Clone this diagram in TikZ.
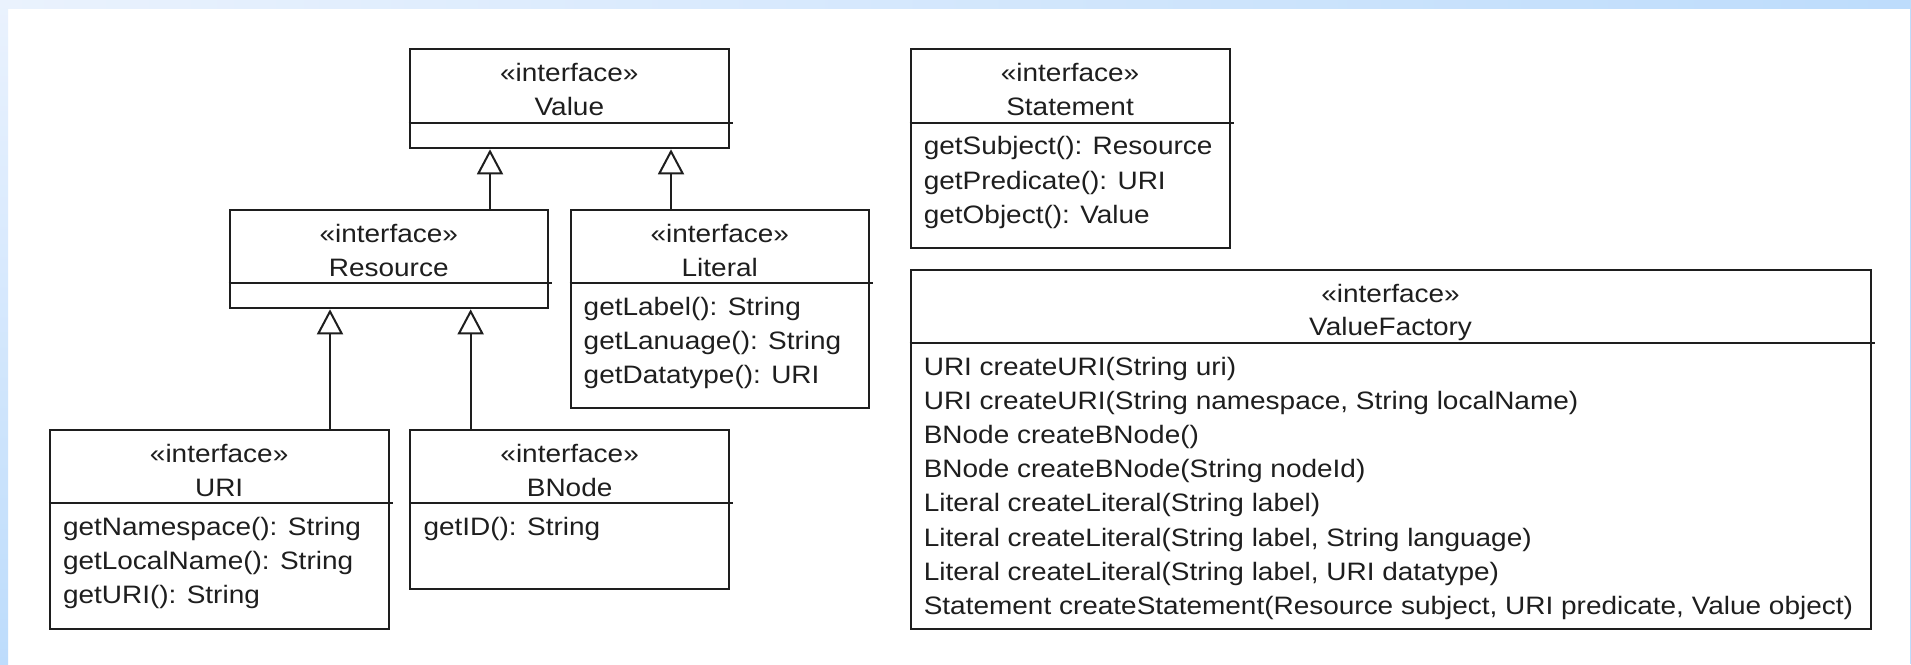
\documentclass[tikz,border=0pt]{standalone}
\usepackage{fontspec}
\setmainfont{Liberation Sans}[FakeStretch=1.11]
\usetikzlibrary{arrows.meta}
\definecolor{bandlight}{HTML}{EAF2FD}
\definecolor{bandblue}{HTML}{BDDCFC}
\definecolor{ink}{HTML}{1E1E1E}
\tikzset{
  umlbox/.style={draw=ink, line width=2pt, fill=white, rectangle, inner sep=0pt, anchor=north west},
  divider/.style={draw=ink, line width=2pt},
  hdr/.style={anchor=base, inner sep=0pt, text=ink},
  meth/.style={anchor=base west, inner sep=0pt, text=ink},
  inh/.style={draw=ink, line width=2pt, -{Triangle[open, length=25pt, width=26pt, line width=2pt]}},
}
\begin{document}
\begin{tikzpicture}[x=1pt, y=-1pt, font=\fontsize{25.2}{34.2}\selectfont]
\useasboundingbox (0,0) rectangle (1911,664);
% background frame
\fill[white] (0,0) rectangle (1911,664);
\shade[left color=bandlight, right color=bandblue] (0,0) rectangle (1911,8);
\shade[top color=bandlight, bottom color=bandblue] (0,0) rectangle (8,664);
\fill[bandblue] (1910,8) rectangle (1911,664);

% ---------- Value ----------
\node[umlbox, minimum width=319.3pt, minimum height=99pt] (value) at (408.7,48.3) {};
\node[hdr] (valueS) at ([yshift=-33pt]value.north) {«interface»};
\node[hdr] (valueN) at ([yshift=-67pt]value.north) {Value};
\draw[divider] ([yshift=-75pt]value.north west) -- ([xshift=3pt,yshift=-75pt]value.north east);

% ---------- Resource ----------
\node[umlbox, minimum width=318.5pt, minimum height=98pt] (res) at (228.5,209.3) {};
\node[hdr] (resS) at ([yshift=-33pt]res.north) {«interface»};
\node[hdr] (resN) at ([yshift=-67pt]res.north) {Resource};
\draw[divider] ([yshift=-74pt]res.north west) -- ([xshift=3pt,yshift=-74pt]res.north east);

% ---------- Literal ----------
\node[umlbox, minimum width=298.5pt, minimum height=198pt] (lit) at (569.5,209.3) {};
\node[hdr] (litS) at ([yshift=-33pt]lit.north) {«interface»};
\node[hdr] (litN) at ([yshift=-67pt]lit.north) {Literal};
\draw[divider] ([yshift=-74pt]lit.north west) -- ([xshift=3pt,yshift=-74pt]lit.north east);
\node[meth] (lit1) at ([xshift=14pt,yshift=-105.7pt]lit.north west) {getLabel(): String};
\node[meth] (lit2) at ([xshift=14pt,yshift=-139.9pt]lit.north west) {getLanuage(): String};
\node[meth] (lit3) at ([xshift=14pt,yshift=-174.1pt]lit.north west) {getDatatype(): URI};

% ---------- URI ----------
\node[umlbox, minimum width=338.7pt, minimum height=198.7pt] (uri) at (48.8,429) {};
\node[hdr] (uriS) at ([yshift=-33pt]uri.north) {«interface»};
\node[hdr] (uriN) at ([yshift=-67pt]uri.north) {URI};
\draw[divider] ([yshift=-74.3pt]uri.north west) -- ([xshift=3pt,yshift=-74.3pt]uri.north east);
\node[meth] (uri1) at ([xshift=14pt,yshift=-106pt]uri.north west) {getNamespace(): String};
\node[meth] (uri2) at ([xshift=14pt,yshift=-140.2pt]uri.north west) {getLocalName(): String};
\node[meth] (uri3) at ([xshift=14pt,yshift=-174.4pt]uri.north west) {getURI(): String};

% ---------- BNode ----------
\node[umlbox, minimum width=318.7pt, minimum height=158.7pt] (bnode) at (409.3,429) {};
\node[hdr] (bnodeS) at ([yshift=-33pt]bnode.north) {«interface»};
\node[hdr] (bnodeN) at ([yshift=-67pt]bnode.north) {BNode};
\draw[divider] ([yshift=-74.3pt]bnode.north west) -- ([xshift=3pt,yshift=-74.3pt]bnode.north east);
\node[meth] (bnode1) at ([xshift=14pt,yshift=-106pt]bnode.north west) {getID(): String};

% ---------- Statement ----------
\node[umlbox, minimum width=318.9pt, minimum height=199pt] (stmt) at (909.6,48.3) {};
\node[hdr] (stmtS) at ([yshift=-33pt]stmt.north) {«interface»};
\node[hdr] (stmtN) at ([yshift=-67pt]stmt.north) {Statement};
\draw[divider] ([yshift=-75pt]stmt.north west) -- ([xshift=3pt,yshift=-75pt]stmt.north east);
\node[meth] (stmt1) at ([xshift=14pt,yshift=-106.5pt]stmt.north west) {getSubject(): Resource};
\node[meth] (stmt2) at ([xshift=14pt,yshift=-140.7pt]stmt.north west) {getPredicate(): URI};
\node[meth] (stmt3) at ([xshift=14pt,yshift=-174.9pt]stmt.north west) {getObject(): Value};

% ---------- ValueFactory ----------
\node[umlbox, minimum width=959.9pt, minimum height=358.4pt] (vf) at (909.6,269.3) {};
\node[hdr] (vfS) at ([yshift=-33pt]vf.north) {«interface»};
\node[hdr] (vfN) at ([yshift=-66pt]vf.north) {ValueFactory};
\draw[divider] ([yshift=-74pt]vf.north west) -- ([xshift=3pt,yshift=-74pt]vf.north east);
\node[meth] (vf1) at ([xshift=14pt,yshift=-105.7pt]vf.north west) {URI createURI(String uri)};
\node[meth] (vf2) at ([xshift=14pt,yshift=-139.9pt]vf.north west) {URI createURI(String namespace, String localName)};
\node[meth] (vf3) at ([xshift=14pt,yshift=-174.1pt]vf.north west) {BNode createBNode()};
\node[meth] (vf4) at ([xshift=14pt,yshift=-208.3pt]vf.north west) {BNode createBNode(String nodeId)};
\node[meth] (vf5) at ([xshift=14pt,yshift=-242.5pt]vf.north west) {Literal createLiteral(String label)};
\node[meth] (vf6) at ([xshift=14pt,yshift=-276.7pt]vf.north west) {Literal createLiteral(String label, String language)};
\node[meth] (vf7) at ([xshift=14pt,yshift=-310.9pt]vf.north west) {Literal createLiteral(String label, URI datatype)};
\node[meth] (vf8) at ([xshift=14pt,yshift=-345.1pt]vf.north west) {Statement createStatement(Resource subject, URI predicate, Value object)};

% ---------- generalizations ----------
\draw[inh] ([xshift=101.25pt]res.north) -- ([xshift=101.25pt]res.north |- value.south);
\draw[inh] ([xshift=-48.75pt]lit.north) -- ([xshift=-48.75pt]lit.north |- value.south);
\draw[inh] ([xshift=110.85pt]uri.north) -- ([xshift=110.85pt]uri.north |- res.south);
\draw[inh] ([xshift=-99pt]bnode.north) -- ([xshift=-99pt]bnode.north |- res.south);
\end{tikzpicture}
\end{document}
